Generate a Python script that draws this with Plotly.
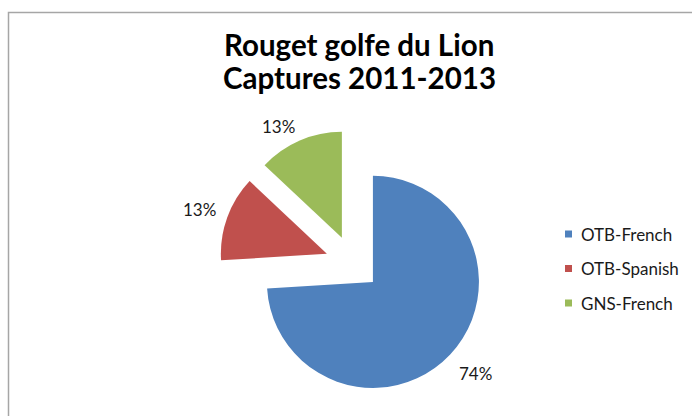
import math
import plotly.graph_objects as go

# Catch shares by fishing fleet, 2011-2013
fleets = ["OTB-French", "OTB-Spanish", "GNS-French"]
shares = [74, 13, 13]
colors = ["#4F81BD", "#C0504D", "#9BBB59"]
explode = [0.26, 0.26, 0.26]

W, H = 692, 416
FONT = "Lato, 'Open Sans', sans-serif"
DOM_X = [0.3168, 0.7029]
DOM_Y = [0.0466, 0.6889]

fig = go.Figure()
fig.add_trace(go.Pie(
    labels=fleets,
    values=shares,
    marker=dict(colors=colors, line=dict(width=0)),
    pull=explode,
    sort=False,
    direction="clockwise",
    rotation=0,
    textinfo="none",
    domain=dict(x=DOM_X, y=DOM_Y),
    showlegend=False,
    hoverinfo="label+percent",
))

# Percentage labels placed just outside each (exploded) slice, Excel style
cx = (DOM_X[0] + DOM_X[1]) / 2 * W
cy = (1 - (DOM_Y[0] + DOM_Y[1]) / 2) * H
size = min((DOM_X[1] - DOM_X[0]) * W, (DOM_Y[1] - DOM_Y[0]) * H)
r = size / 2 / (1 + max(explode))
total = sum(shares)
start = 0.0
for v, p in zip(shares, explode):
    sweep = 360.0 * v / total
    mid = math.radians(start + sweep / 2)
    start += sweep
    ux, uy = math.sin(mid), -math.cos(mid)  # screen coords, y down
    px0, py0 = cx + p * r * ux, cy + p * r * uy
    d = 1.10 * r
    lx, ly = px0 + d * ux, py0 + d * uy
    xa = "left" if ux > 0.3 else ("right" if ux < -0.3 else "center")
    ya = "top" if uy > 0.3 else ("bottom" if uy < -0.3 else "middle")
    fig.add_annotation(text=f"{round(100 * v / total)}%", xref="paper", yref="paper",
                       x=lx / W, y=1 - ly / H, xanchor=xa, yanchor=ya,
                       yshift=-7 if ya == "bottom" else 0,
                       showarrow=False, borderpad=0,
                       font=dict(family=FONT, size=17, color="#1a1a1a"))

# Chart frame
fig.add_shape(type="rect", xref="paper", yref="paper",
              x0=8.5 / W, x1=1.02, y0=-0.02, y1=1 - 12.5 / H,
              line=dict(color="#A6A6A6", width=1.5), fillcolor="rgba(0,0,0,0)")

# Title, two lines
for line, yc in [("Rouget golfe du Lion", 45), ("Captures 2011-2013", 77)]:
    fig.add_annotation(text=f"<b>{line}</b>", xref="paper", yref="paper",
                       x=359 / W, y=1 - yc / H,
                       xanchor="center", yanchor="middle", showarrow=False,
                       font=dict(family=FONT, size=29.5, color="#000000"))

# Legend: coloured square plus label per fleet
leg_x, leg_y0, leg_dy = 565, 234, 34.5
for i, (name, col) in enumerate(zip(fleets, colors)):
    yc = leg_y0 + i * leg_dy
    fig.add_shape(type="rect", xref="paper", yref="paper",
                  x0=leg_x / W, x1=(leg_x + 7) / W,
                  y0=1 - (yc + 3.5) / H, y1=1 - (yc - 3.5) / H,
                  line=dict(width=0), fillcolor=col)
    fig.add_annotation(text=name, xref="paper", yref="paper",
                       x=(leg_x + 14) / W, y=1 - yc / H,
                       xanchor="left", yanchor="middle", showarrow=False,
                       font=dict(family=FONT, size=17, color="#1a1a1a"))

fig.update_layout(
    width=W, height=H,
    margin=dict(l=0, r=0, t=0, b=0, autoexpand=False),
    paper_bgcolor="white",
    plot_bgcolor="white",
    showlegend=False,
)

fig.write_html("out.html")
